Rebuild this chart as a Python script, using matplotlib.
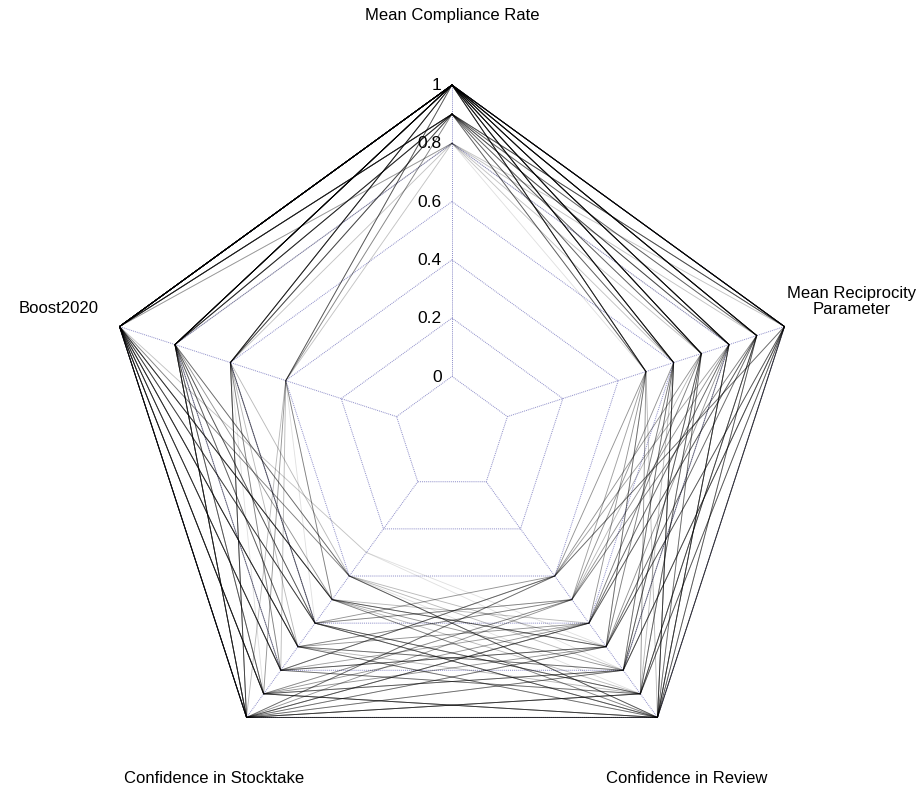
import numpy as np
import matplotlib.pyplot as plt

# axis names, clockwise from the top
axis_labels = ["Mean Compliance Rate", "Mean Reciprocity\nParameter", "Confidence in Review",
               "Confidence in Stocktake", "Boost2020"]
tick_labels = ["0", "0.2", "0.4", "0.6", "0.8", "1"]
tick_values = [0.0, 0.2, 0.4, 0.6, 0.8, 1.0]

# one entry per scenario line
compliance = [1, 1, 1, 1, 1, 1, 1, 1, 1, 1, 1, 1, 1, 1, 1, 1, 1, 1, 1, 1,
              1, 1, 1, 1, 1, 1, 1, 1, 1, 1, 1, 1, 1, 1, 1, 1,
              0.9, 0.9, 0.9, 0.9, 0.9, 0.9, 0.9, 0.9, 0.9, 0.9, 0.9, 0.9, 0.9, 0.9,
              0.9, 0.9, 0.9, 0.9, 0.9, 0.9,
              0.8, 0.8, 0.8, 0.8, 0.8, 0.8, 0.8, 0.8, 0.8, 0.8]
reciprocity = [1, 1, 1, 1, 1, 0.9, 0.9, 0.9, 0.9, 0.8, 0.8, 0.8, 0.7, 0.7, 0.7, 0.6, 0.6, 0.5, 0.5, 1,
               0.9, 0.8, 0.7, 0.6, 0.5, 1, 1, 0.9, 0.8, 0.7, 0.6, 0.5, 0.9, 0.8, 0.7, 0.6,
               1, 1, 0.9, 0.9, 0.8, 0.8, 0.7, 0.7, 0.6, 0.6, 0.5, 0.5, 1, 0.8,
               0.9, 0.7, 0.5, 1, 0.6, 0.8,
               1, 0.8, 0.6, 0.9, 0.7, 0.5, 1, 0.6, 0.9, 0.7]
boost = [1, 1, 1, 0.8, 1, 1, 1, 0.8, 1, 1, 0.8, 1, 1, 0.6, 1, 1, 0.8, 1, 0.6, 0.8,
         1, 0.8, 0.4, 1, 0.8, 0.6, 1, 0.8, 1, 0.8, 1, 1, 0.6, 1, 0.8, 0.4,
         1, 0.8, 0.6, 1, 0.8, 0.4, 1, 0.8, 0.6, 1, 0.8, 0.4, 1, 0.6,
         1, 1, 0.8, 0.6, 1, 0.8,
         1, 0.6, 0.4, 0.8, 1, 0.8, 0.6, 1, 0.4, 1]
stocktake = [1, 0.9, 0.7, 1, 0.5, 1, 0.8, 0.9, 0.6, 1, 0.8, 0.4, 0.9, 1, 0.7, 1, 0.6, 0.8, 1, 0.6,
             1, 0.7, 0.5, 0.9, 1, 0.8, 0.6, 0.5, 0.7, 0.4, 0.9, 1, 0.6, 0.5, 1, 0.9,
             0.9, 0.7, 1, 0.5, 1, 0.8, 0.6, 0.9, 0.7, 1, 0.4, 1, 0.8, 0.6,
             0.5, 0.8, 0.9, 0.4, 0.7, 1,
             0.3, 0.8, 0.5, 1, 0.4, 0.7, 0.9, 0.3, 0.6, 0.8]
review = [1, 0.8, 1, 0.9, 0.7, 0.6, 0.9, 1, 0.5, 0.8, 0.7, 1, 0.6, 0.9, 0.8, 0.5, 1, 0.4, 0.7, 0.9,
          1, 0.6, 0.8, 1, 0.9, 0.7, 0.4, 0.7, 0.5, 1, 0.8, 0.6, 0.9, 1, 0.4, 0.7,
          1, 0.8, 0.7, 0.9, 1, 0.6, 1, 0.5, 0.9, 0.8, 0.7, 1, 0.4, 1,
          0.6, 0.9, 0.5, 0.8, 1, 0.4,
          0.8, 0.4, 1, 0.6, 0.9, 0.5, 1, 0.7, 0.5, 0.6]
line_alpha = [0.42] * 36 + [0.27] * 20 + [0.12] * 10

cx_px, cy_px, R_px = 452, 434.6, 349.6
W, H = 923, 788

n_axes = 5
angles = np.pi / 2 - 2 * np.pi * np.arange(n_axes) / n_axes
# label anchor points, in units of the outer radius
label_pos = [(0.0, 1.2), (1.142, 0.38), (0.67, -0.985), (-0.68, -0.985), (-1.125, 0.36)]


def radial(v):
    # fmsb-style: zero sits on the first inner ring, not at the centre
    return (1 + 5 * np.asarray(v, dtype=float)) / 6


def to_xy(vals):
    r = radial(vals)
    return r * np.cos(angles), r * np.sin(angles)


fig = plt.figure(figsize=(W / 100, H / 100), dpi=100)
ax = fig.add_axes([0, 0, 1, 1])
ax.set_xlim(-cx_px / R_px, (W - cx_px) / R_px)
ax.set_ylim(-(H - cy_px) / R_px, cy_px / R_px)
ax.set_aspect('equal')
ax.axis('off')

grid_col = '#8c8cc8'
for tv in tick_values:
    gx, gy = to_xy([tv] * n_axes)
    ax.plot(np.append(gx, gx[0]), np.append(gy, gy[0]), color=grid_col,
            linestyle=(0, (1, 1)), linewidth=0.7, zorder=1)
for a in angles:
    r0, r1 = radial(0), radial(1)
    ax.plot([r0 * np.cos(a), r1 * np.cos(a)], [r0 * np.sin(a), r1 * np.sin(a)],
            color=grid_col, linestyle=(0, (1, 1)), linewidth=0.7, zorder=1)

for i in range(len(compliance)):
    vals = [compliance[i], reciprocity[i], review[i], stocktake[i], boost[i]]
    px, py = to_xy(vals)
    ax.plot(np.append(px, px[0]), np.append(py, py[0]), color='black',
            alpha=line_alpha[i], linewidth=0.65, zorder=2)

for tv, tl in zip(tick_values, tick_labels):
    ax.text(-0.03, radial(tv) - 0.002, tl, ha='right', va='center',
            fontsize=12.5, family='Liberation Sans', zorder=3)

for (lx, ly), lab in zip(label_pos, axis_labels):
    ax.text(lx, ly, lab, ha='center', va='center',
            fontsize=12, family='Liberation Sans', linespacing=1.1)

fig.savefig('out.png', dpi=100, facecolor='white')
